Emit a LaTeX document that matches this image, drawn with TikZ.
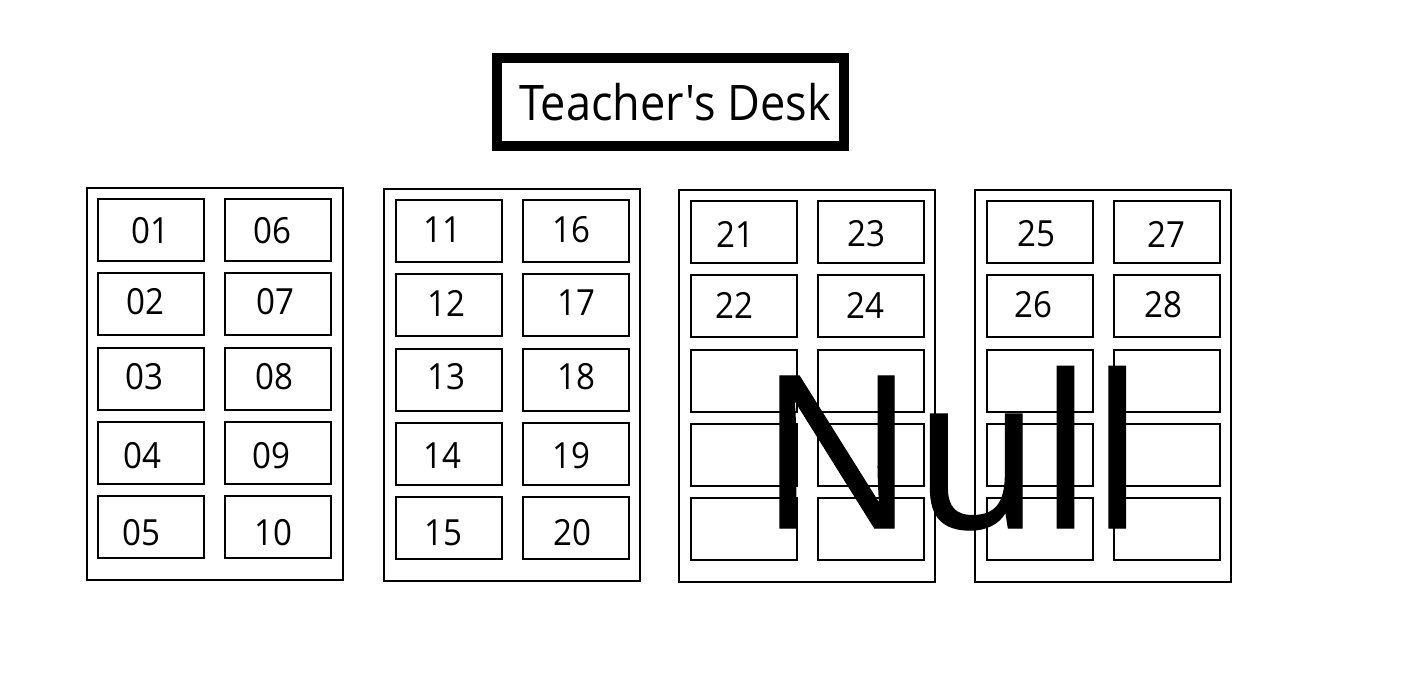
\documentclass[tikz,border=0pt]{standalone}
\usepackage{fontspec}
\newfontfamily\uifont[FakeStretch=0.92]{Open Sans}
\newfontfamily\bigfont[FakeStretch=0.96,FakeBold=0.6]{Open Sans}
\begin{document}
\begin{tikzpicture}[x=1pt,y=-1pt,
  seat/.style={draw,line width=2pt,minimum width=106pt,minimum height=62pt,inner sep=0pt},
  grp/.style={draw,line width=2pt,minimum width=256pt,minimum height=392pt,inner sep=0pt},
  num/.style={inner sep=0pt,font=\fontsize{36}{36}\uifont},
  desk/.style={draw,line width=10pt,minimum width=347pt,minimum height=88pt,inner sep=0pt}]
\useasboundingbox (0,0) rectangle (1416,672);
\fill[white] (0,0) rectangle (1416,672);
% teacher's desk
\node[desk] (desk) at (670.5,102) {};
\node[inner sep=0pt,anchor=base,font=\fontsize{49}{49}\uifont] (desklbl) at (675,120) {Teacher's Desk};
% groups
\node[grp] (g1) at (214.5,384) {};
\node[grp] (g2) at (512,384.5) {};
\node[grp] (g3) at (807,386) {};
\node[grp] (g4) at (1103,386) {};
% seats
\foreach \r/\y in {1/230,2/304,3/379,4/453,5/527}{
  \node[seat] (s1a\r) at (151,\y) {};
  \node[seat] (s1b\r) at (278,\y) {};
  \node[seat] (s2a\r) at (448.5,\y+1) {};
  \node[seat] (s2b\r) at (575.5,\y+1) {};
  \node[seat] (s3a\r) at (743.5,\y+2) {};
  \node[seat] (s3b\r) at (870.5,\y+2) {};
  \node[seat] (s4a\r) at (1039.5,\y+2) {};
  \node[seat] (s4b\r) at (1166.5,\y+2) {};
}
% labels group 1
\node[num] (n01) at (150,231) {01};
\node[num] (n06) at (272,231) {06};
\node[num] (n02) at (145,302) {02};
\node[num] (n07) at (275,302) {07};
\node[num] (n03) at (144,377) {03};
\node[num] (n08) at (274,377) {08};
\node[num] (n04) at (142,456) {04};
\node[num] (n09) at (271,456) {09};
\node[num] (n05) at (141,533) {05};
\node[num] (n10) at (273,533) {10};
% labels group 2
\node[num] (n11) at (442,230) {11};
\node[num] (n16) at (571,230) {16};
\node[num] (n12) at (446,303) {12};
\node[num] (n17) at (576,303) {17};
\node[num] (n13) at (446,377) {13};
\node[num] (n18) at (576,377) {18};
\node[num] (n14) at (442,456) {14};
\node[num] (n19) at (571,456) {19};
\node[num] (n15) at (443,533) {15};
\node[num] (n20) at (572,533) {20};
% labels group 3
\node[num] (n21) at (735,234) {21};
\node[num] (n23) at (866,234) {23};
\node[num] (n22) at (734,305) {22};
\node[num] (n24) at (865,305) {24};
% labels group 4
\node[num] (n25) at (1036,234) {25};
\node[num] (n27) at (1166,234) {27};
\node[num] (n26) at (1033,305) {26};
\node[num] (n28) at (1163,305) {28};
% Null
\node[inner sep=0pt,anchor=base,font=\fontsize{213}{213}\bigfont] (null) at (951.5,528) {Null};
\end{tikzpicture}
\end{document}
